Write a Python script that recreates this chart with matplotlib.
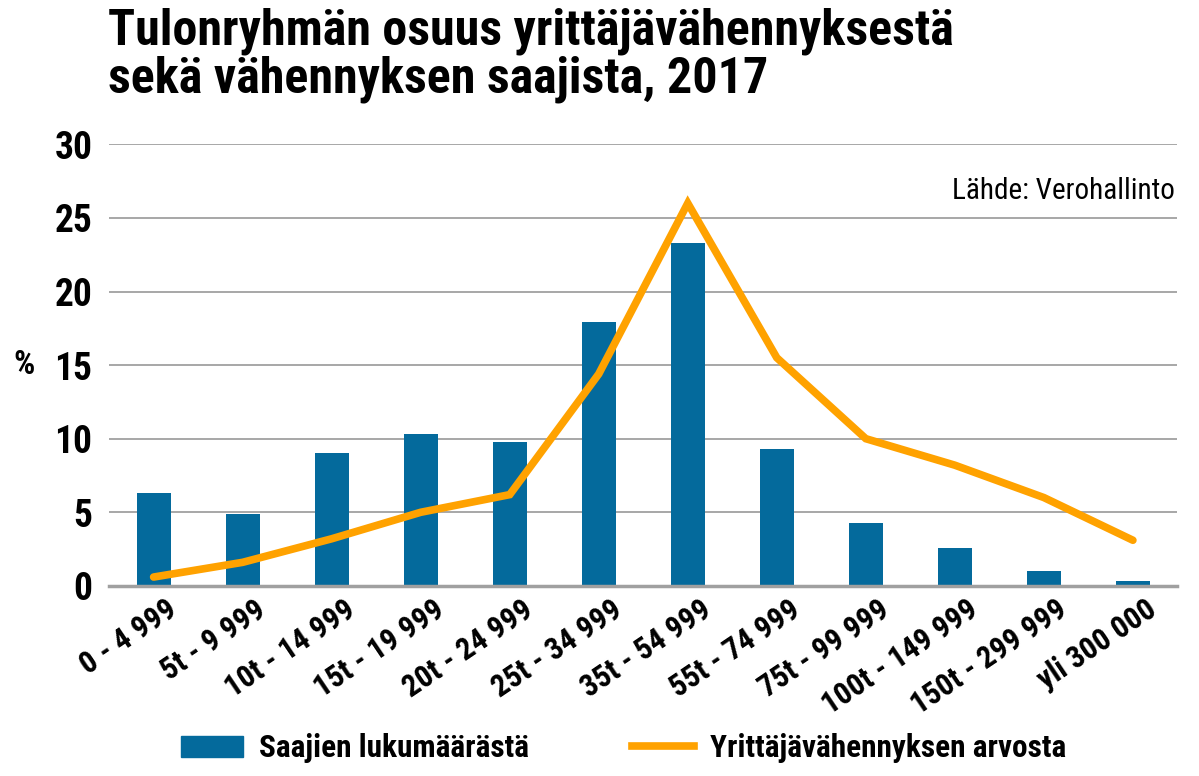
import matplotlib
matplotlib.use("Agg")
import matplotlib.pyplot as plt
import matplotlib.transforms as mtransforms
from matplotlib import font_manager
from matplotlib.patches import Patch
from matplotlib.lines import Line2D
import numpy as np

categories = ["0 - 4 999", "5t - 9 999", "10t - 14 999", "15t - 19 999",
              "20t - 24 999", "25t - 34 999", "35t - 54 999", "55t - 74 999",
              "75t - 99 999", "100t - 149 999", "150t - 299 999", "yli 300 000"]
recipients = [6.3, 4.9, 9.0, 10.3, 9.8, 17.9, 23.3, 9.3, 4.3, 2.6, 1.0, 0.3]
deduction = [0.6, 1.6, 3.2, 5.0, 6.2, 14.4, 26.0, 15.5, 10.0, 8.2, 6.0, 3.1]

blue = "#046a9c"
orange = "#ffa200"

names = {f.name for f in font_manager.fontManager.ttflist}
cond = "Roboto Condensed" if "Roboto Condensed" in names else "Roboto"
plt.rcParams["font.family"] = [cond, "DejaVu Sans"]

fig = plt.figure(figsize=(11.99, 7.76), dpi=100)
ax = fig.add_axes([0.091, 0.245, 0.891, 0.569])

x = np.arange(len(categories))
ax.bar(x, recipients, width=0.38, color=blue, zorder=2)
ax.plot(x, deduction, color=orange, lw=5.5, solid_capstyle="round",
        solid_joinstyle="miter", zorder=3)

ax.set_xlim(-0.5, len(categories) - 0.5)
ax.set_ylim(0, 30)
ax.set_yticks(range(0, 31, 5))
ax.yaxis.grid(True, color="#a0a0a0", lw=1.3, zorder=0)
ax.set_axisbelow(True)
for s in ["top", "right", "left"]:
    ax.spines[s].set_visible(False)
ax.spines["bottom"].set_color("#a0a0a0")
ax.spines["bottom"].set_linewidth(2.5)
ax.tick_params(axis="both", length=0)
ax.tick_params(axis="y", labelsize=27, pad=12)
ax.set_yticklabels([str(v) for v in range(0, 31, 5)], fontweight="bold")
ax.set_xticks(x)
ax.set_xticklabels(categories, rotation=34, ha="right", rotation_mode="anchor",
                   fontsize=22, fontweight="bold")
ax.tick_params(axis="x", pad=6)
# labels end a little past the bar centre
offset = mtransforms.ScaledTranslation(12 / 100, 0, fig.dpi_scale_trans)
for lbl in ax.get_xticklabels():
    lbl.set_transform(lbl.get_transform() + offset)

fig.text(0.011, 0.53, "%", fontsize=24, fontweight="bold", va="center")

fig.text(0.09, 0.99, "Tulonryhmän osuus yrittäjävähennyksestä\nsekä vähennyksen saajista, 2017",
         fontsize=36, fontweight="bold", va="top", ha="left", linespacing=1.0)

ax.text(0.998, 0.895, "Lähde: Verohallinto", transform=ax.transAxes,
        ha="right", va="center", fontsize=21)

handles = [Patch(color=blue), Line2D([0], [0], color=orange, lw=5.5)]
fig.legend(handles, ["Saajien lukumäärästä", "Yrittäjävähennyksen arvosta"],
           loc="center", bbox_to_anchor=(0.52, 0.036), ncol=2, frameon=False,
           prop={"size": 22.5, "weight": "bold"}, handlelength=2.0, handleheight=0.65,
           columnspacing=3.3, handletextpad=0.5)

fig.savefig("out.png", dpi=100)
